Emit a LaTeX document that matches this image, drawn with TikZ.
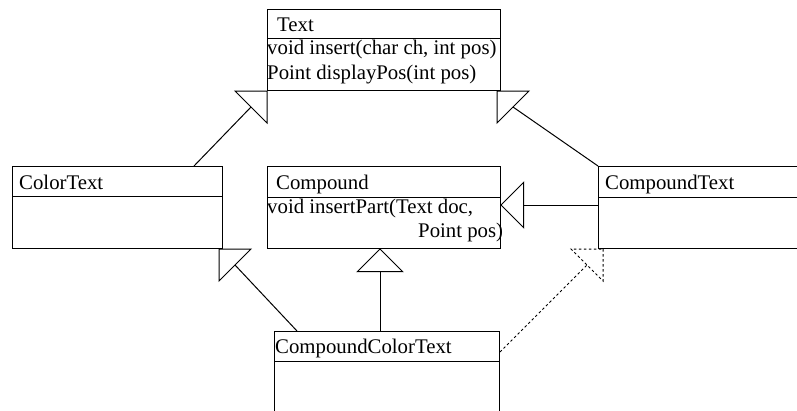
\documentclass[tikz,border=0pt]{standalone}
\usepackage{fontspec}
\setmainfont{Liberation Serif}
\usetikzlibrary{calc}

\tikzset{
  classbox/.style={draw, line width=1pt, rectangle, anchor=north west, inner sep=0pt},
  txt/.style={anchor=base west, inner sep=0pt, font=\fontsize{20.8}{24}\selectfont},
  link/.style={line width=1pt},
  realize/.style={dash pattern=on 2.5pt off 2.5pt},
}

% generalization arrow: [style]{start}{tip}{direction from tip to base}
\newcommand\genarrow[4][]{%
  \coordinate (gaTip) at (#3);
  \coordinate (gaMid) at ($(gaTip)+(#4:22.6pt)$);
  \draw[link,#1] (#2) -- (gaMid);
  \draw[link,#1] (gaTip) -- ($(gaMid)+(#4+90:22.6pt)$) -- ($(gaMid)+(#4-90:22.6pt)$) -- cycle;
}

\begin{document}
\begin{tikzpicture}[x=1pt,y=-1pt]
  \clip (0,0) rectangle (797,410);

  % class boxes
  \node[classbox, minimum width=233pt, minimum height=81pt] (text) at (267,9) {};
  \node[classbox, minimum width=210pt, minimum height=82pt] (colortext) at (12,166) {};
  \node[classbox, minimum width=233pt, minimum height=82pt] (compound) at (267,166) {};
  \node[classbox, minimum width=250pt, minimum height=82pt] (compoundtext) at (598,166) {};
  \node[classbox, minimum width=225pt, minimum height=110pt] (cct) at (274,331) {};

  % compartment dividers
  \draw[link] ($(text.north west)+(0,29)$) -- ($(text.north east)+(0,29)$);
  \draw[link] ($(colortext.north west)+(0,30)$) -- ($(colortext.north east)+(0,30)$);
  \draw[link] ($(compound.north west)+(0,31)$) -- ($(compound.north east)+(0,31)$);
  \draw[link] ($(compoundtext.north west)+(0,31)$) -- ($(compoundtext.north east)+(0,31)$);
  \draw[link] ($(cct.north west)+(0,30)$) -- ($(cct.north east)+(0,30)$);

  % names and operations
  \node[txt] (tname) at (277,31) {Text};
  \node[txt] (top1) at (267,54) {void insert(char ch, int pos)};
  \node[txt] (top2) at (267,79) {Point displayPos(int pos)};
  \node[txt] (ctname) at (19,189) {ColorText};
  \node[txt] (cname) at (276,189) {Compound};
  \node[txt] (cop1) at (267,213) {void insertPart(Text doc,};
  \node[txt] (cop2) at (418,237) {Point pos)};
  \node[txt] (cptname) at (605,189) {CompoundText};
  \node[txt] (cctname) at (275,353) {CompoundColorText};

  % inheritance
  \genarrow{$(colortext.north east)+(-29,0)$}{text.south west}{225}
  \genarrow{compoundtext.north west}{$(text.south east)+(-4,0)$}{-45}
  \genarrow{$(cct.north west)+(23,0)$}{$(colortext.south east)+(-4,0)$}{-45}
  \genarrow{$(cct.north west)+(106,0)$}{$(compound.south west)+(113,0)$}{-90}
  \genarrow{$(compoundtext.north west)+(0,39)$}{$(compound.north east)+(0,39)$}{0}
  \genarrow[realize]{$(cct.north east)+(0,21)$}{$(compoundtext.south west)+(5,0)$}{225}
\end{tikzpicture}
\end{document}
